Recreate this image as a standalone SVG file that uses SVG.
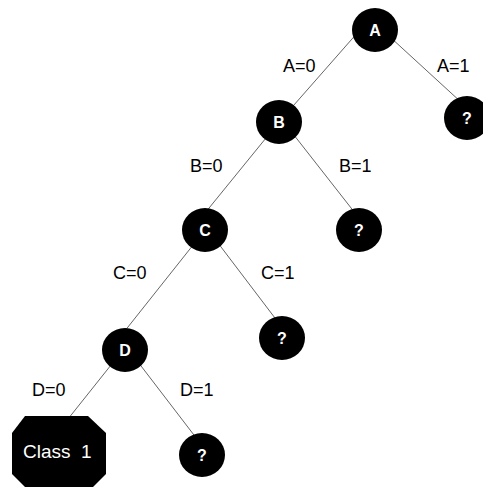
<svg xmlns="http://www.w3.org/2000/svg" width="483" height="487" viewBox="0 0 483 487">
<style>
.n{fill:#000}
.nl{fill:#fff;font-family:"Liberation Sans",Arial,sans-serif;font-weight:bold;font-size:16px;text-anchor:middle}
.el{fill:#000;font-family:"Liberation Sans",Arial,sans-serif;font-size:18px}
.e{stroke:#666;stroke-width:1;fill:none}
</style>
<rect width="483" height="487" fill="#fff"/>
<g id="connectors">
<line class="e" x1="359" y1="31" x2="279" y2="122"/>
<line class="e" x1="390" y1="37" x2="462" y2="103"/>
<line class="e" x1="279" y1="122" x2="205" y2="213"/>
<line class="e" x1="290" y1="130" x2="355" y2="213"/>
<line class="e" x1="205" y1="230" x2="124" y2="332"/>
<line class="e" x1="218" y1="243" x2="278" y2="322"/>
<line class="e" x1="115" y1="360" x2="68" y2="419"/>
<line class="e" x1="138" y1="362" x2="197" y2="439"/>
</g>
<g id="labels">
<text class="el" x="283" y="72">A=0</text>
<text class="el" x="437" y="72">A=1</text>
<text class="el" x="190" y="172">B=0</text>
<text class="el" x="339" y="172">B=1</text>
<text class="el" x="113" y="279">C=0</text>
<text class="el" x="261" y="279">C=1</text>
<text class="el" x="32" y="396">D=0</text>
<text class="el" x="180" y="396">D=1</text>
</g>
<g id="nodeA"><ellipse class="n" cx="375" cy="30" rx="23" ry="22"/><text class="nl" x="375" y="36">A</text></g>
<g id="nodeQ1"><ellipse class="n" cx="467" cy="118" rx="23" ry="22"/><text class="nl" x="467" y="124">?</text></g>
<g id="nodeB"><ellipse class="n" cx="279" cy="122" rx="23" ry="22"/><text class="nl" x="279" y="128">B</text></g>
<g id="nodeC"><ellipse class="n" cx="205" cy="230" rx="23" ry="22"/><text class="nl" x="205" y="236">C</text></g>
<g id="nodeQ2"><ellipse class="n" cx="359" cy="230" rx="23" ry="22"/><text class="nl" x="359" y="236">?</text></g>
<g id="nodeD"><ellipse class="n" cx="125" cy="350" rx="23" ry="22"/><text class="nl" x="125" y="356">D</text></g>
<g id="nodeQ3"><ellipse class="n" cx="282" cy="338" rx="23" ry="22"/><text class="nl" x="282" y="344">?</text></g>
<g id="nodeQ4"><ellipse class="n" cx="202" cy="455" rx="23" ry="22"/><text class="nl" x="202" y="461">?</text></g>
<g id="nodeClass1"><polygon class="n" points="25,416 88,416 106,433 106,474 93,487 25,487 12,474 12,433"/><text x="23" y="458" fill="#fff" font-family="Liberation Sans, Arial, sans-serif" font-size="19" xml:space="preserve">Class  1</text></g>
</svg>
